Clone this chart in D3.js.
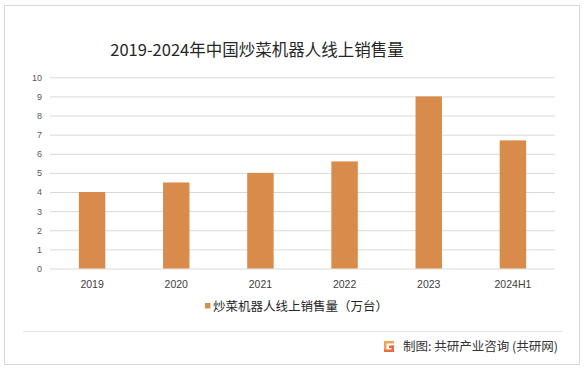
<!DOCTYPE html>
<html lang="zh">
<head>
<meta charset="UTF-8">
<title>炒菜机器人线上销售量</title>
<script src="https://d3js.org/d3.v7.min.js"></script>
<style>
  * { margin: 0; padding: 0; }
  body { background: #fff; font-family: "Noto Sans CJK SC", "Noto Sans", sans-serif; }
</style>
</head>
<body>
<svg id="chart" width="586" height="370"></svg>
<script>
var categories = ["2019", "2020", "2021", "2022", "2023", "2024H1"];
var sales = [4.0, 4.5, 5.0, 5.6, 9.0, 6.7];
var yTicks = [0, 1, 2, 3, 4, 5, 6, 7, 8, 9, 10];
var seriesName = "炒菜机器人线上销售量（万台）";

var svg = d3.select("#chart");
var barColor = "#d98b4b";

// outer frame
svg.append("rect")
  .attr("x", 4.5).attr("y", 5.5)
  .attr("width", 575).attr("height", 359)
  .attr("fill", "#fff")
  .attr("stroke", "#d9d9d9");

svg.append("text")
  .attr("x", 257).attr("y", 56)
  .attr("text-anchor", "middle")
  .attr("font-size", 16.5)
  .attr("fill", "#262626")
  .text("2019-2024年中国炒菜机器人线上销售量");

var x = d3.scaleBand()
  .domain(categories)
  .range([50, 555])
  .paddingInner(0.686)
  .paddingOuter(0.343);

var y = d3.scaleLinear()
  .domain([0, 10])
  .range([268.5, 77.3]);

// gridlines
var yAxis = d3.axisLeft(y)
  .tickValues(yTicks)
  .tickSize(-505)
  .tickPadding(8)
  .tickFormat(d3.format("d"));

var gy = svg.append("g")
  .attr("transform", "translate(50,0)")
  .call(yAxis);
gy.select(".domain").remove();
gy.selectAll(".tick line").attr("stroke", "#d9d9d9");
gy.selectAll(".tick text")
  .attr("fill", "#595959")
  .attr("font-size", 9)
  .attr("font-family", "Liberation Sans, sans-serif");

svg.append("g").selectAll("rect")
  .data(sales)
  .enter()
  .append("rect")
  .attr("x", function (d, i) { return x(categories[i]); })
  .attr("y", function (d) { return y(d); })
  .attr("width", x.bandwidth())
  .attr("height", function (d) { return y(0) - y(d); })
  .attr("fill", barColor);

var xAxis = d3.axisBottom(x).tickSize(0).tickPadding(12);
var gx = svg.append("g")
  .attr("transform", "translate(0,268.5)")
  .call(xAxis);
gx.select(".domain").remove();
gx.selectAll(".tick text")
  .attr("fill", "#404040")
  .attr("font-size", 10.5)
  .attr("font-family", "Liberation Sans, sans-serif");

// legend
svg.append("rect")
  .attr("x", 205).attr("y", 303)
  .attr("width", 5.5).attr("height", 5.5)
  .attr("fill", barColor);
svg.append("text")
  .attr("x", 213).attr("y", 311)
  .attr("font-size", 12.5)
  .attr("fill", "#262626")
  .text(seriesName);

// footer
svg.append("line")
  .attr("x1", 23).attr("x2", 563)
  .attr("y1", 331.5).attr("y2", 331.5)
  .attr("stroke", "#e3e3e3");

var logo = svg.append("g").attr("transform", "translate(384,341)");
logo.append("rect").attr("x", 0).attr("y", 0).attr("width", 10).attr("height", 2.5).attr("fill", "#f2a15a");
logo.append("rect").attr("x", 0).attr("y", 0).attr("width", 2.5).attr("height", 11).attr("fill", "#f2a15a");
logo.append("rect").attr("x", 0).attr("y", 8.5).attr("width", 10).attr("height", 2.5).attr("fill", "#ec6a3c");
logo.append("rect").attr("x", 5).attr("y", 4.5).attr("width", 5).attr("height", 2.5).attr("fill", "#ec6a3c");
logo.append("rect").attr("x", 7.5).attr("y", 4.5).attr("width", 2.5).attr("height", 6.5).attr("fill", "#ec6a3c");

svg.append("text")
  .attr("x", 403).attr("y", 351)
  .attr("font-size", 12.5)
  .attr("fill", "#333")
  .text("制图: 共研产业咨询 (共研网)");
</script>
</body>
</html>
